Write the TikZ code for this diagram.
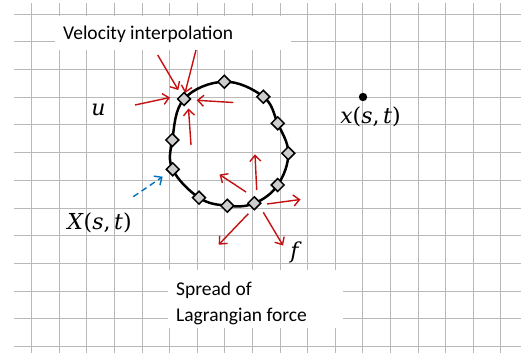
\documentclass[tikz,border=0pt]{standalone}
\usepackage{fontspec}
\setmainfont{Carlito}
\newfontfamily\mathlike{DejaVu Serif}
\usetikzlibrary{arrows.meta,shapes.geometric}
\definecolor{gridgray}{RGB}{185,185,185}
\definecolor{arrred}{RGB}{196,16,16}
\definecolor{arrblue}{RGB}{0,112,192}
\definecolor{diafill}{RGB}{205,205,205}
\newcommand{\mi}[1]{\textit{#1}}
\tikzset{
  gridline/.style={draw=gridgray, line width=0.9pt},
  whitebox/.style={fill=white, draw=none},
  curveline/.style={draw=black, line width=2.5pt},
  dia/.style={diamond, draw=black, fill=diafill, line width=1.5pt, minimum width=13.5pt, minimum height=13.5pt, inner sep=0pt},
  redarrow/.style={draw=arrred, line width=1.4pt, -{Straight Barb[length=6pt,width=11pt,line width=1.4pt]}},
  bluearrow/.style={draw=arrblue, line width=1.4pt, dash pattern=on 6pt off 4pt, -{Straight Barb[length=6pt,width=11pt,line width=1.4pt]}},
  txt/.style={font=\fontsize{19.5}{26.5}\selectfont, inner sep=0pt},
  mathlbl/.style={font=\mathlike\fontsize{22}{26}\selectfont, inner sep=0pt}
}
\begin{document}
\begin{tikzpicture}[x=1pt,y=-1pt]
\useasboundingbox (0,0) rectangle (521,353);
% grid
\foreach \i in {0,...,12} \draw[gridline] (14,14+27.72*\i) -- (521,14+27.72*\i);
\foreach \j in {0,...,17} \draw[gridline] (31.7+27.6*\j,3) -- (31.7+27.6*\j,353);
% white label boxes
\fill[whitebox] (55,16.5) rectangle (291,50);
\fill[whitebox] (168,270) rectangle (343,328);
% texts
\node[txt, anchor=base west] (vel) at (63,40) {Velocity interpolation};
\node[txt, anchor=base west] (spread1) at (176,295) {Spread of};
\node[txt, anchor=base west] (spread2) at (176,321.5) {Lagrangian force};
% closed curve
\draw[curveline] plot[smooth cycle, tension=0.65] coordinates {(184,99) (224.3,81.7) (263.3,96.7) (277.7,123.3) (288.3,153.3) (277.7,185) (254.3,203.3) (227.3,205.7) (199,197.7) (172.7,169.3) (172.3,140)};
% red arrows towards the upper-left marker
\coordinate (a1s) at (157.7,55);  \coordinate (a1e) at (178.3,90);
\coordinate (a2s) at (196,50);    \coordinate (a2e) at (185,93);
\coordinate (a3s) at (135,105);   \coordinate (a3e) at (170,97.5);
\coordinate (a4s) at (233.3,102.5); \coordinate (a4e) at (196.7,100.3);
\coordinate (a5s) at (191,145);   \coordinate (a5e) at (188.5,108.5);
\foreach \k in {1,...,5} \draw[redarrow] (a\k s) -- (a\k e);
% red arrows spreading from the lower marker
\coordinate (b1s) at (256.7,190);   \coordinate (b1e) at (255,154.3);
\coordinate (b2s) at (246,192);     \coordinate (b2e) at (219.5,174.5);
\coordinate (b3s) at (267,204);     \coordinate (b3e) at (300.5,199.5);
\coordinate (b4s) at (248.3,213.7); \coordinate (b4e) at (218.7,244.7);
\coordinate (b5s) at (263.3,212.3); \coordinate (b5e) at (283,245.5);
\foreach \k in {1,...,5} \draw[redarrow] (b\k s) -- (b\k e);
% markers
\node[dia] (d1) at (184,99) {};
\node[dia] (d2) at (224.3,81.7) {};
\node[dia] (d3) at (263.3,96.7) {};
\node[dia] (d4) at (277.7,123.3) {};
\node[dia] (d5) at (288.3,153.3) {};
\node[dia] (d6) at (277.7,185) {};
\node[dia] (d7) at (254.3,203.3) {};
\node[dia] (d8) at (227.3,205.7) {};
\node[dia] (d9) at (199,197.7) {};
\node[dia] (d10) at (172.7,169.3) {};
\node[dia] (d11) at (172.3,140) {};
% blue dashed arrow
\coordinate (bls) at (133.3,196.7);
\coordinate (ble) at (162.7,176.7);
\draw[bluearrow] (bls) -- (ble);
% Eulerian point
\fill[black] (363,97) circle (4.2pt) coordinate (xpt);
% math labels
\node[mathlbl, anchor=base] (u) at (98.5,115) {\mi{u}};
\node[mathlbl, anchor=base] (Xst) at (99.5,229) {\mi{X}(\mi{s},\,\mi{t})};
\node[mathlbl, anchor=base] (xst) at (370.5,123.5) {\mi{x}(\mi{s},\,\mi{t})};
\node[mathlbl] (f) at (296,252) {\mi{f}};
\end{tikzpicture}
\end{document}
